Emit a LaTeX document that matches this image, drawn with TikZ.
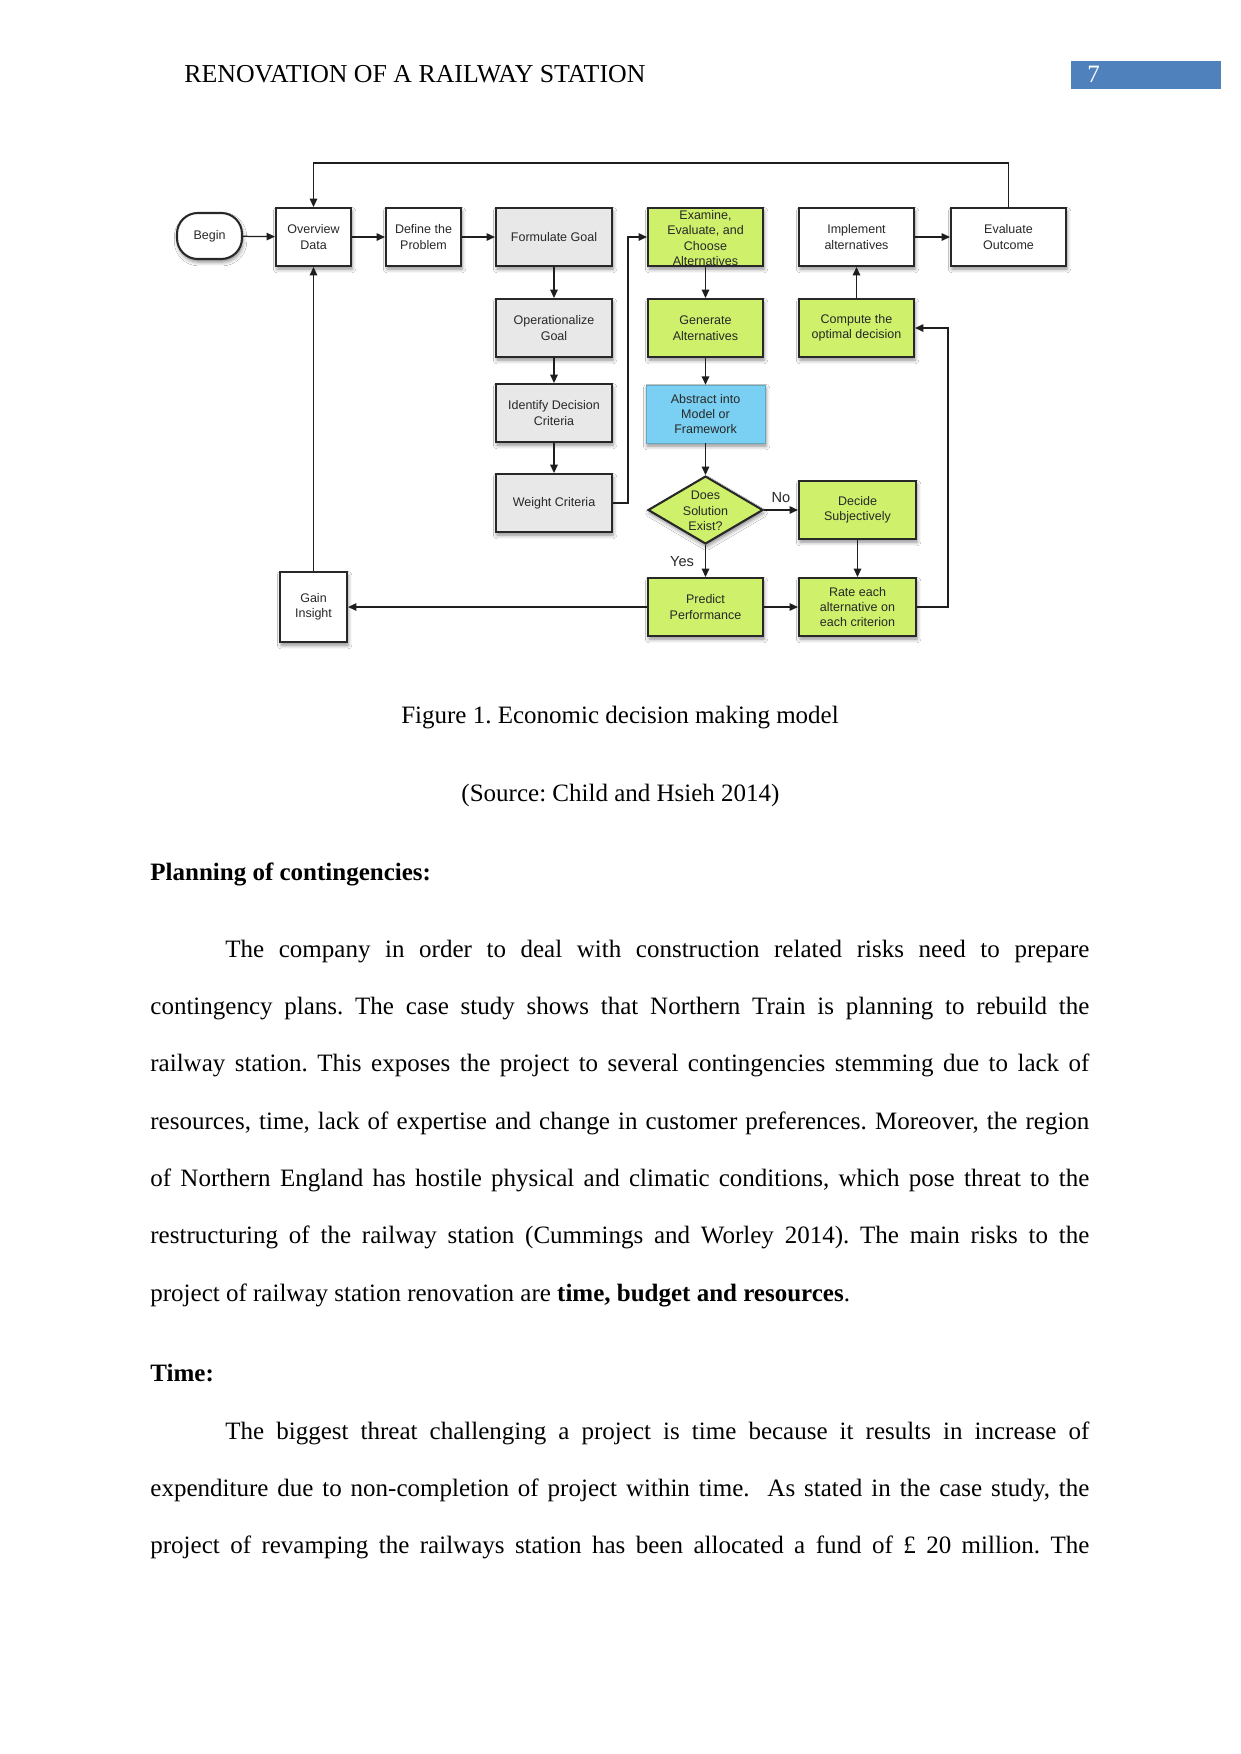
\documentclass[tikz,border=0pt]{standalone}
\usepackage{fontspec}
\setmainfont{Liberation Serif}
\newfontfamily\dsans{Liberation Sans}
\usetikzlibrary{shapes.geometric,arrows.meta,shadows.blur}
\definecolor{gfill}{RGB}{206,240,106}
\definecolor{bfill}{RGB}{122,208,242}
\definecolor{grfill}{RGB}{232,232,232}
\definecolor{boxline}{RGB}{40,40,40}
\definecolor{textgray}{RGB}{40,40,40}
\definecolor{linegray}{RGB}{30,30,30}
\definecolor{hdrblue}{RGB}{79,129,189}
\newcommand\myjline[2]{\makebox[#1][s]{#2}}
\frenchspacing
\begin{document}
\frenchspacing
\begin{tikzpicture}[x=0.48pt,y=-0.48pt,
  box/.style={draw=boxline, line width=1pt, align=center,
    font=\dsans\fontsize{6}{7.4}\selectfont, text=textgray, inner sep=0pt,
    blur shadow={shadow xshift=0.5pt, shadow yshift=-1.5pt, shadow blur radius=1.8pt, shadow opacity=45}},
  wbox/.style={box, fill=white, minimum width=55.2pt, minimum height=27.8pt},
  sbox/.style={box, fill=white, minimum width=36pt, minimum height=27.8pt},
  gbox/.style={box, fill=grfill, minimum width=55.7pt, minimum height=27.8pt},
  grbox/.style={box, fill=gfill, minimum width=55.2pt, minimum height=27.8pt},
  grwbox/.style={box, fill=gfill, minimum width=56.2pt, minimum height=27.8pt},
  bbox/.style={box, fill=bfill, draw=bfill!80!black, line width=0.3pt, minimum width=57.1pt, minimum height=27.8pt},
  txt/.style={font=\dsans\fontsize{6}{7.4}\selectfont, text=textgray, align=center, inner sep=0pt},
  conn/.style={line width=0.6pt, draw=linegray, -{Triangle[length=4pt,width=3.6pt]}},
  lbl/.style={font=\dsans\fontsize{7}{8}\selectfont, text=textgray, inner sep=0pt},
  body/.style={font=\fontsize{12}{14}\selectfont, anchor=base west, inner sep=0pt},
  bodyc/.style={font=\fontsize{12}{14}\selectfont, anchor=base, inner sep=0pt}
]
\useasboundingbox[fill=white] (0,0) rectangle (1241,1754);

% header
\node[body, font=\fontsize{12.4}{14}\selectfont] (hdr) at (184,82) {RENOVATION OF A RAILWAY STATION};
\fill[hdrblue] (1071,61) rectangle (1221,89);
\node[body, text=white] (pg) at (1087,82) {7};

% diagram nodes
\node[box, fill=white, rounded corners=10pt, minimum width=31.2pt, minimum height=22.1pt] (begin) at (209.5,236) {Begin};
\node[sbox] (overview) at (313.5,237) {Overview\\Data};
\node[sbox] (define) at (423.5,237) {Define the\\Problem};
\node[gbox] (formulate) at (554,237) {Formulate Goal};
\node[gbox] (operational) at (554,328) {Operationalize\\Goal};
\node[gbox] (identify) at (554,413) {Identify Decision\\Criteria};
\node[gbox] (weight) at (554,503) {Weight Criteria};
\node[grbox] (examine) at (705.5,237) {};
\node[txt] (examinetxt) at (705.5,238) {Examine,\\Evaluate, and\\Choose\\Alternatives};
\node[grbox] (generate) at (705.5,328) {Generate\\Alternatives};
\node[bbox] (abstract) at (705.5,414) {Abstract into\\Model or\\Framework};
\node[box, diamond, fill=gfill, minimum width=55.2pt, minimum height=32.6pt] (exist) at (705.5,510) {};
\node[txt] (existtxt) at (705.5,511) {Does\\Solution\\Exist?};
\node[grbox] (predict) at (705.5,607) {Predict\\Performance};
\node[wbox] (implement) at (856.5,237) {Implement\\alternatives};
\node[wbox] (evaluate) at (1008.5,237) {Evaluate\\Outcome};
\node[grbox] (compute) at (856.5,328) {Compute the\\optimal decision};
\node[grwbox] (decide) at (857.5,510) {Decide\\Subjectively};
\node[grwbox] (rate) at (857.5,607) {Rate each\\alternative on\\each criterion};
\node[box, fill=white, minimum width=32.2pt, minimum height=33.6pt] (gain) at (313.5,607) {Gain\\Insight};

\coordinate (jx) at (628,370);
\coordinate (kx) at (948,450);
\coordinate (ty) at (660,163);

% connectors
\draw[conn] (begin) -- (overview);
\draw[conn] (overview) -- (define);
\draw[conn] (define) -- (formulate);
\draw[conn] (formulate) -- (operational);
\draw[conn] (operational) -- (identify);
\draw[conn] (identify) -- (weight);
\draw[conn] (weight.east) -| (jx) |- (examine.west);
\draw[conn] (examine) -- (generate);
\draw[conn] (generate) -- (abstract);
\draw[conn] (abstract) -- (exist);
\draw[conn] (exist) -- (decide);
\draw[conn] (exist) -- (predict);
\draw[conn] (decide) -- (rate);
\draw[conn] (predict) -- (rate);
\draw[conn] (predict) -- (gain);
\draw[conn] (rate.east) -| (kx) |- (compute.east);
\draw[conn] (compute) -- (implement);
\draw[conn] (implement) -- (evaluate);
\draw[conn] (evaluate.north) |- (ty) -| (overview.north);
\draw[conn] (gain) -- (overview);
\node[lbl] (nolbl) at (781,498) {No};
\node[lbl] (yeslbl) at (682,562) {Yes};

% caption
\node[bodyc] (cap1) at (620,723) {Figure 1. Economic decision making model};
\node[bodyc] (cap2) at (620.5,801) {(Source: Child and Hsieh 2014)};

% body text
\node[body] (h1) at (150,880) {\textbf{Planning of contingencies:}};
\node[body] (p1) at (225,957) {\myjline{414.7pt}{The company in order to deal with construction related risks need to prepare}};
\node[body] (p2) at (150,1014) {\myjline{450.7pt}{contingency plans. The case study shows that Northern Train is planning to rebuild the}};
\node[body] (p3) at (150,1071.5) {\myjline{450.7pt}{railway station. This exposes the project to several contingencies stemming due to lack of}};
\node[body] (p4) at (150,1129) {\myjline{450.7pt}{resources, time, lack of expertise and change in customer preferences. Moreover, the region}};
\node[body] (p5) at (150,1186) {\myjline{450.7pt}{of Northern England has hostile physical and climatic conditions, which pose threat to the}};
\node[body] (p6) at (150,1243.5) {\myjline{450.7pt}{restructuring of the railway station (Cummings and Worley 2014). The main risks to the}};
\node[body] (p7) at (150,1301) {project of railway station renovation are \textbf{time, budget and resources}.};
\node[body] (h2) at (150,1381) {\textbf{Time:}};
\node[body] (q1) at (225,1439) {\myjline{414.7pt}{The biggest threat challenging a project is time because it results in increase of}};
\node[body] (q2) at (150,1496) {\myjline{450.7pt}{expenditure due to non-completion of project within time.~ As stated in the case study, the}};
\node[body] (q3) at (150,1553) {\myjline{450.7pt}{project of revamping the railways station has been allocated a fund of £ 20 million. The}};
\end{tikzpicture}
\end{document}
